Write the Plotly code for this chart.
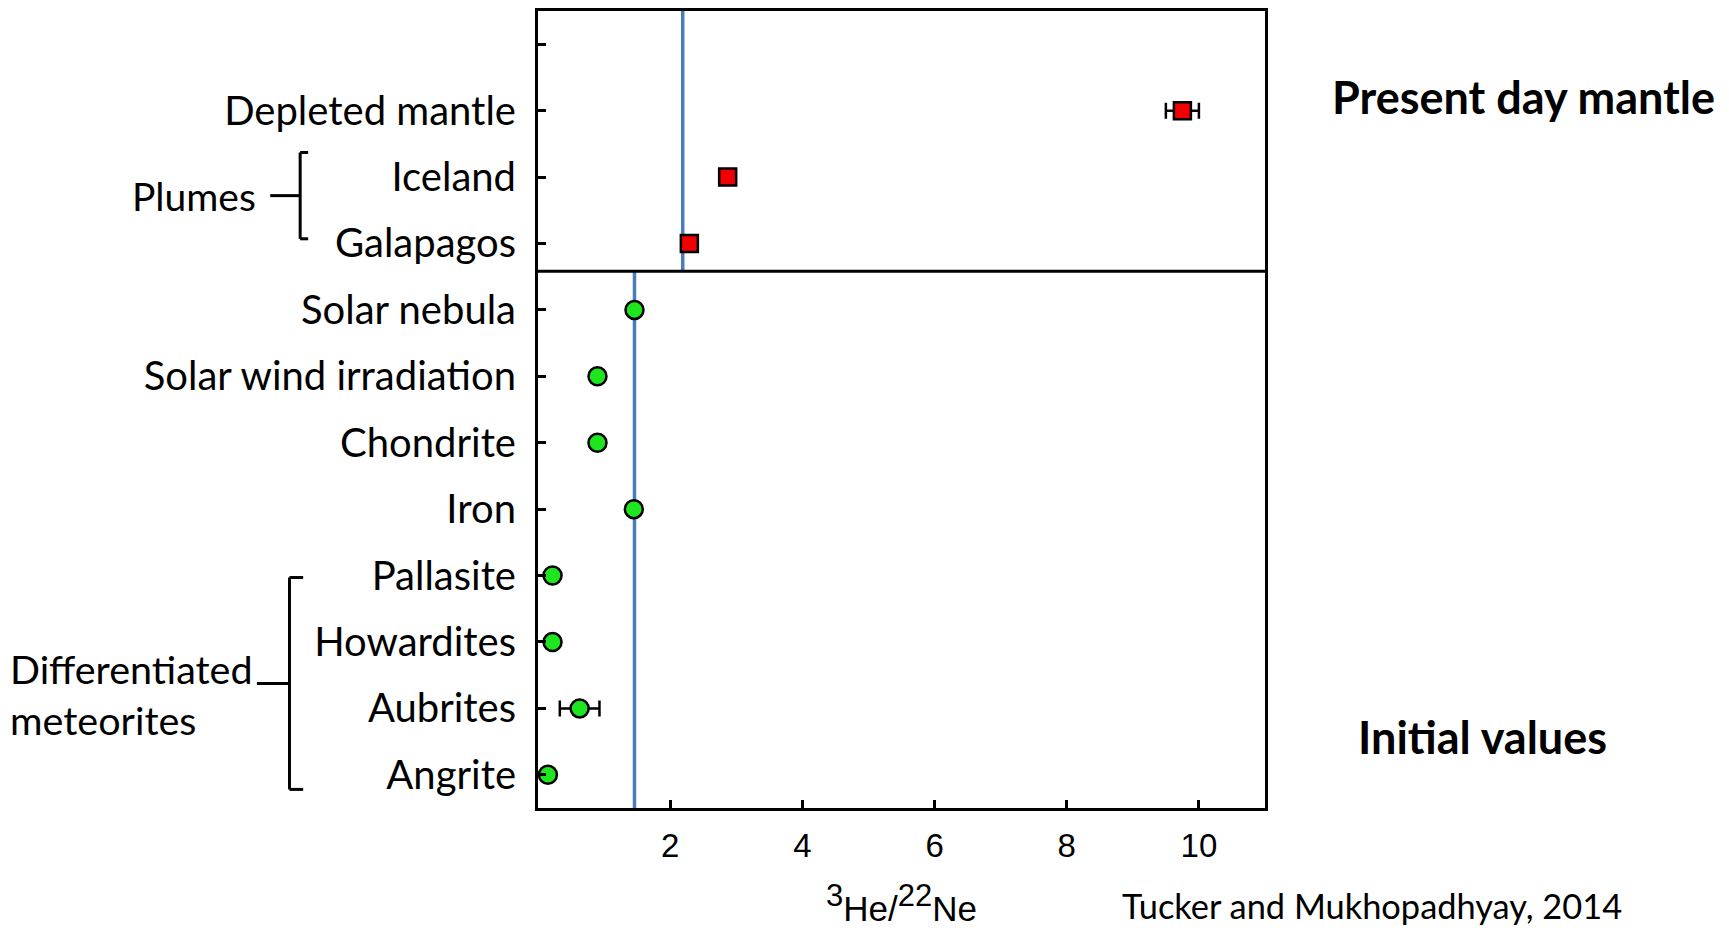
import plotly.graph_objects as go

# 3He/22Ne ratios: present-day mantle sources and initial (nebular / meteoritic) values
present_names = ["Depleted mantle", "Iceland", "Galapagos"]
present_vals = [9.75, 2.87, 2.29]
present_err = [0.25, 0.0, 0.0]

initial_names = ["Solar nebula", "Solar wind irradiation", "Chondrite", "Iron",
                 "Pallasite", "Howardites", "Aubrites", "Angrite"]
initial_vals = [1.46, 0.90, 0.90, 1.45, 0.22, 0.22, 0.63, 0.15]
initial_err = [0.0, 0.0, 0.0, 0.0, 0.0, 0.0, 0.30, 0.0]

# reference ratios drawn as vertical lines in each panel
mantle_ref = 2.19
initial_ref = 1.46

x_ticks = [2, 4, 6, 8, 10]

# row 0 is an unlabelled tick at the top of the axis
row_labels = [""] + present_names + initial_names
present_rows = list(range(1, 1 + len(present_names)))
initial_rows = list(range(1 + len(present_names), len(row_labels)))

W, H = 1729, 928
L, R, T, B = 538, 1265.5, 10.7, 808.3


def px_x(px):
    return (px - L) / (R - L)


def px_y(py):
    return (B - py) / (B - T)


LABEL_FONT = "Lato, 'Open Sans', sans-serif"
TICK_FONT = "'Liberation Sans', Arial, sans-serif"
BLUE = "#4A7EBB"

fig = go.Figure()

fig.add_trace(go.Scatter(
    x=present_vals, y=present_rows, mode="markers",
    marker=dict(symbol="square", size=17, color="#F00000",
                line=dict(color="black", width=2.5)),
    error_x=dict(type="data", array=present_err, visible=True,
                 color="black", thickness=2.5, width=8),
    cliponaxis=False, showlegend=False,
))

fig.add_trace(go.Scatter(
    x=initial_vals, y=initial_rows, mode="markers",
    marker=dict(symbol="circle", size=18, color="#1EE61E",
                line=dict(color="black", width=2.5)),
    error_x=dict(type="data", array=initial_err, visible=True,
                 color="black", thickness=2.5, width=8),
    cliponaxis=False, showlegend=False,
))

divider = 3.42
shapes = [
    # panel divider
    dict(type="line", xref="paper", yref="y", x0=px_x(535), x1=1, y0=divider, y1=divider,
         line=dict(color="black", width=3)),
    # reference ratio lines
    dict(type="line", xref="x", yref="y", x0=mantle_ref, x1=mantle_ref, y0=-0.55, y1=divider,
         line=dict(color=BLUE, width=3.5), layer="below"),
    dict(type="line", xref="x", yref="y", x0=initial_ref, x1=initial_ref, y0=divider, y1=11.62,
         line=dict(color=BLUE, width=3.5), layer="below"),
]


def bracket(x_px, y_top, y_bot, stem_px, serif_px):
    xv = px_x(x_px)
    xs = px_x(serif_px)
    return [
        dict(type="line", xref="paper", yref="y", x0=xv, x1=xv, y0=y_top, y1=y_bot,
             line=dict(color="black", width=3)),
        dict(type="line", xref="paper", yref="y", x0=xv, x1=xs, y0=y_top, y1=y_top,
             line=dict(color="black", width=3)),
        dict(type="line", xref="paper", yref="y", x0=xv, x1=xs, y0=y_bot, y1=y_bot,
             line=dict(color="black", width=3)),
        dict(type="line", xref="paper", yref="y", x0=px_x(stem_px), x1=xv,
             y0=(y_top + y_bot) / 2, y1=(y_top + y_bot) / 2,
             line=dict(color="black", width=3)),
    ]


shapes += bracket(300, 1.63, 2.93, 270, 308)
shapes += bracket(289.3, 8.03, 11.22, 256.7, 303)

annotations = [
    dict(text="Plumes", xref="paper", yref="y", x=px_x(258), y=2.28,
         xanchor="right", yanchor="middle", showarrow=False,
         font=dict(family=LABEL_FONT, size=39, color="black")),
    dict(text="Differentiated<br>meteorites", xref="paper", yref="y", x=px_x(8), y=9.78,
         xanchor="left", yanchor="middle", align="left", showarrow=False,
         font=dict(family=LABEL_FONT, size=39.5, color="black")),
    dict(text="<b>Present day mantle</b>", xref="paper", yref="paper",
         x=px_x(1524.5), y=px_y(97), xanchor="center", yanchor="middle", showarrow=False,
         font=dict(family=LABEL_FONT, size=45, color="black")),
    dict(text="<b>Initial values</b>", xref="paper", yref="paper",
         x=px_x(1483), y=px_y(737), xanchor="center", yanchor="middle", showarrow=False,
         font=dict(family=LABEL_FONT, size=45, color="black")),
    dict(text="Tucker and Mukhopadhyay, 2014", xref="paper", yref="paper",
         x=px_x(1372.5), y=px_y(927), xanchor="center", yanchor="bottom", showarrow=False,
         borderpad=0,
         font=dict(family=LABEL_FONT, size=34.4, color="black")),
]

fig.update_layout(
    width=W, height=H,
    margin=dict(l=L, r=W - R, t=T, b=H - B, pad=0, autoexpand=False),
    paper_bgcolor="white", plot_bgcolor="white",
    shapes=shapes, annotations=annotations,
    xaxis=dict(
        range=[0, 11], tickvals=x_ticks, ticktext=[str(v) for v in x_ticks],
        ticks="inside", ticklen=8, tickwidth=2.5, tickcolor="black",
        showline=True, linecolor="black", linewidth=3, mirror=True,
        showgrid=False, zeroline=False, automargin=False,
        tickfont=dict(family=TICK_FONT, size=33, color="black"),
        ticklabelstandoff=6,
        title=dict(
            text="<sup><span style='font-size:31px'>3</span></sup>He/"
                 "<sup><span style='font-size:31px'>22</span></sup>Ne",
            font=dict(family=TICK_FONT, size=35, color="black"), standoff=38),
    ),
    yaxis=dict(
        range=[11.5, -0.5], tickvals=list(range(len(row_labels))), ticktext=row_labels,
        ticks="inside", ticklen=8, tickwidth=2.5, tickcolor="black",
        showline=True, linecolor="black", linewidth=3, mirror=True,
        showgrid=False, zeroline=False, automargin=False,
        tickfont=dict(family=LABEL_FONT, size=40, color="black"),
        ticklabelstandoff=11,
    ),
)

fig.write_html("out.html")
